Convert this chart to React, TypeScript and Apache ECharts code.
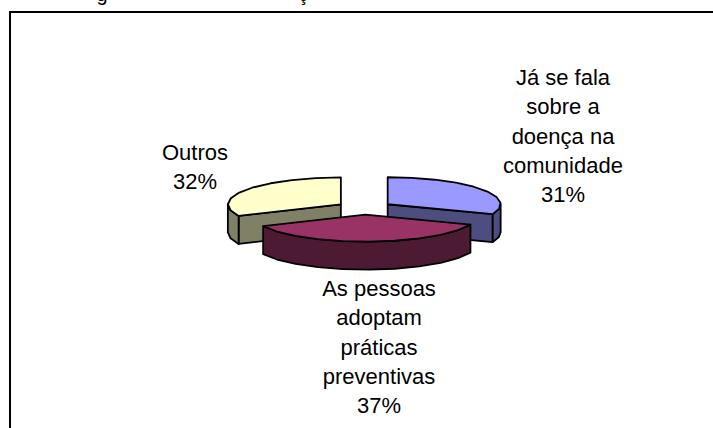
import React, { useEffect, useRef } from "react";
import * as echarts from "echarts";

const categories = ["Já se fala\nsobre a\ndoença na\ncomunidade", "As pessoas\nadoptam\npráticas\npreventivas", "Outros"];
const values = [31, 37, 32];
const topColors = ["#9999FF", "#993366", "#FFFFCC"];
const sideColors = ["#4D4D80", "#4D1A33", "#808066"];
const labelAnchors = [[563, 63], [379, 274], [195, 138]];
const clippedTitleGlyphs = [["g", 102], ["ç", 303]];

const CX = 364.5, CY = 208, A = 113, B = 27, DEPTH = 28, EXPLODE = 28, STEP = 13;
const FONT = "'Liberation Sans', Arial, sans-serif";
const total = values.reduce((a, b) => a + b, 0);

function pt(c: number[], deg: number, dy = 0) {
  const r = (deg * Math.PI) / 180;
  return [c[0] + A * Math.sin(r), c[1] - B * Math.cos(r) + dy];
}
function arc(c: number[], from: number, to: number, dy = 0) {
  const n = Math.max(1, Math.round((to - from) / STEP));
  const out: number[][] = [];
  for (let i = 0; i <= n; i++) out.push(pt(c, from + ((to - from) * i) / n, dy));
  return out;
}

function renderItem(_: any, api: any) {
  const i = api.value(0);
  const start = (values.slice(0, i).reduce((a, b) => a + b, 0) / total) * 360;
  const end = start + (values[i] / total) * 360;
  const mid = ((start + end) / 2) * Math.PI / 180;
  const c = [CX + EXPLODE * Math.sin(mid), CY - (EXPLODE * B / A) * Math.cos(mid)];
  const line = { stroke: "#000", lineWidth: 1.8, lineJoin: "round" };
  const children: any[] = [];
  const side = (points: number[][]) =>
    children.push({ type: "polygon", shape: { points }, style: { fill: sideColors[i], ...line } });
  if (end > 0 && end < 180) side([c, pt(c, end), pt(c, end, DEPTH), [c[0], c[1] + DEPTH]]);
  if (start > 180 && start < 360) side([c, pt(c, start), pt(c, start, DEPTH), [c[0], c[1] + DEPTH]]);
  const a0 = Math.max(start, 90), a1 = Math.min(end, 270);
  if (a1 > a0) {
    const outer = arc(c, a0, a1);
    side([...outer, ...arc(c, a0, a1, DEPTH).reverse()]);
  }
  children.push({
    type: "polygon",
    shape: { points: [c, ...arc(c, start, end)] },
    style: { fill: topColors[i], ...line },
  });
  return { type: "group", z2: i === 1 ? 10 : 1, children: children.map((ch) => ({ ...ch, z2: i === 1 ? 10 : 1 })) };
}

export default function App() {
  const ref = useRef<HTMLDivElement>(null);
  useEffect(() => {
    document.body.style.margin = "0";
    const chart = echarts.init(ref.current!, undefined, { renderer: "svg" });
    const labels = categories.map((name, i) => ({
      type: "text",
      x: labelAnchors[i][0],
      y: labelAnchors[i][1],
      style: {
        text: `${name}\n${Math.round((values[i] / total) * 100)}%`,
        font: `22px ${FONT}`,
        lineHeight: 29.2,
        fill: "#000",
        align: "center",
        verticalAlign: "top",
      },
    }));
    chart.setOption({
      animation: false,
      backgroundColor: "#fff",
      graphic: [
        { type: "polyline", shape: { points: [[10, 428], [10, 12], [713, 12]] }, style: { stroke: "#000", lineWidth: 2, fill: "none" } },
        ...clippedTitleGlyphs.map(([t, x]) => ({
          type: "text",
          x: x as number,
          y: 4,
          style: { text: t as string, font: `20px ${FONT}`, fill: "#000", align: "center", verticalAlign: "bottom" },
        })),
        ...labels,
      ],
      series: [
        {
          type: "custom",
          coordinateSystem: "none",
          silent: true,
          data: values.map((v, i) => [i, v]),
          renderItem,
        },
      ],
    });
    return () => chart.dispose();
  }, []);
  return <div ref={ref} style={{ width: 713, height: 428 }} />;
}
